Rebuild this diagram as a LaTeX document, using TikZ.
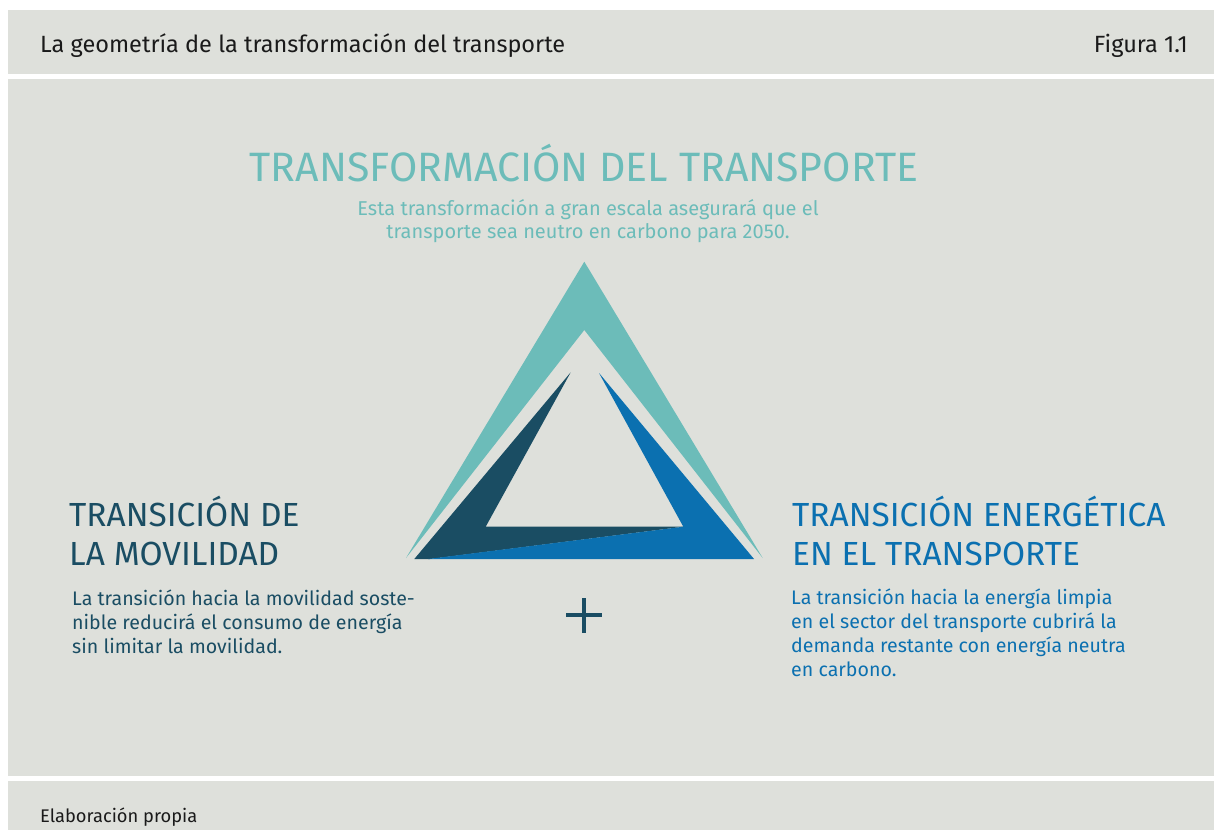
\documentclass[tikz,border=0pt]{standalone}
\usepackage{fontspec}
\setmainfont{Fira Sans}
\definecolor{bg}{HTML}{DEE0DB}
\definecolor{teal}{HTML}{6CBCB9}
\definecolor{navy}{HTML}{1A4D63}
\definecolor{tblue}{HTML}{0B70B0}
\definecolor{ink}{HTML}{1A1A1A}
\tikzset{
  txt/.style={inner sep=0pt, anchor=base west},
  hdr/.style={txt, text=ink, font=\fontsize{23.5}{28}\selectfont},
  bigl/.style={txt, font=\fontsize{33.4}{39}\selectfont, align=left},
  body/.style={txt, font=\fontsize{19.6}{23.8}\selectfont, align=left},
}
\begin{document}
\begin{tikzpicture}[x=1pt,y=-1pt]
\useasboundingbox (0,0) rectangle (1214,830);
\fill[white] (0,0) rectangle (1214,830);
\fill[bg] (8,10) rectangle (1214,74);
\fill[bg] (8,79) rectangle (1214,776);
\fill[bg] (8,781) rectangle (1214,830);
% header / footer
\node[hdr] (title) at (40,52) {La geometría de la transformación del transporte};
\node[hdr, anchor=base east] (fig) at (1188,52) {Figura 1.1};
\node[txt, text=ink, font=\fontsize{18.3}{22}\selectfont] (src) at (40,822) {Elaboración propia};
% main title
\node[inner sep=0pt, anchor=base, text=teal, font=\fontsize{41}{48}\selectfont] (main) at (584,181) {TRANSFORMACIÓN DEL TRANSPORTE};
\node[inner sep=0pt, anchor=base, text=teal, align=center, font=\fontsize{20}{23}\selectfont] (sub) at (588,238) {Esta transformación a gran escala asegurará que el\\transporte sea neutro en carbono para 2050.};
% triangle
\fill[teal] (406,558) -- (584.3,261.7) -- (762.7,558) -- (584.3,330) -- cycle;
\fill[navy] (570.7,372.3) -- (414.3,559) -- (430,559) -- (683.3,526.7) -- (485.7,526.7) -- cycle;
\fill[tblue] (599,373) -- (754,559) -- (428,559) -- (683.3,526.7) -- cycle;
% left
\node[bigl, text=navy] (lh) at (69,565) {TRANSICIÓN DE\\LA MOVILIDAD};
\node[body, text=navy] (lb) at (72,653) {La transición hacia la movilidad soste-\\nible reducirá el consumo de energía\\sin limitar la movilidad.};
% right
\node[bigl, text=tblue] (rh) at (792,565) {TRANSICIÓN ENERGÉTICA\\EN EL TRANSPORTE};
\node[body, text=tblue] (rb) at (791,676) {La transición hacia la energía limpia\\en el sector del transporte cubrirá la\\demanda restante con energía neutra\\en carbono.};
% plus
\coordinate (pc) at (584,615);
\draw[navy, line width=3.5pt] ([xshift=-18pt]pc) -- ([xshift=18pt]pc);
\draw[navy, line width=3.5pt] ([yshift=-17.5pt]pc) -- ([yshift=17.5pt]pc);
\end{tikzpicture}
\end{document}
